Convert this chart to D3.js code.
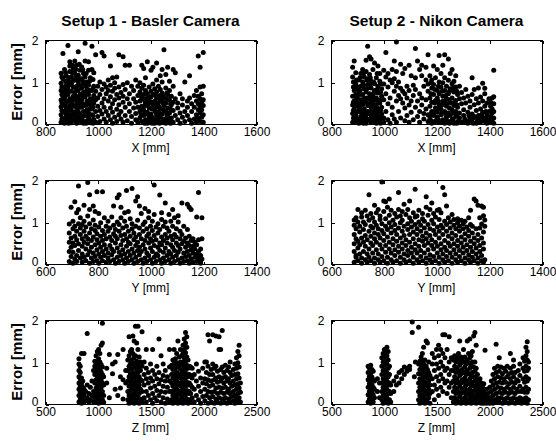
<!DOCTYPE html>
<html>
<head>
<meta charset="utf-8">
<script src="https://cdn.jsdelivr.net/npm/d3@7"></script>
<style>
body { margin: 0; background: #fff; }
svg { display: block; }
text { font-family: "Liberation Sans", Arial, sans-serif; fill: #000; }
</style>
</head>
<body>
<div id="chart"></div>
<script>
"use strict";

// measured position [mm] and the errors [mm] read at it: [position, [error, ...]]
var basX = [
	[861,[.04,.22,.41,.57,.8,.97,1.21]],
	[864,[.12,.32,.5,.7,.88,1.12]],
	[868,[.13,.3,.66,.88,1.08,1.68]],
	[874,[.02,.47,.6,.76,1.3]],
	[878,[.1,.26,.42,.68,.84,1.02,1.22]],
	[881,[.18,.35,.52,.93,1.14]],
	[887,[.08,.27,.7,.84,1.02,1.87]],
	[890,[.02,.2,.36,.54,.78,.92,1.1]],
	[894,[.15,.44,.6,1.25,1.38,1.48]],
	[900,[.03,.33,.52,.78,.95,1.12]],
	[904,[.1,.24,.46,.6,1.02,1.22,1.4]],
	[907,[.2,.42,.66,.88,1.32]],
	[913,[.1,.28,.57,.74,1.05,1.2,1.5]],
	[917,[.06,.2,.66,.84,1.1,1.3]],
	[920,[.02,.38,.48,.9,1.4]],
	[926,[.16,.3,.62,.8,1.0,1.16,1.72]],
	[930,[.1,.4,.56,.92,1.08,1.42]],
	[933,[.06,.24,.5,.7,1.28]],
	[939,[.12,.4,.58,.86,1.08,1.36]],
	[943,[.08,.18,.48,.66,1.02,1.3]],
	[946,[.02,.3,.76,.95,1.2]],
	[952,[.2,.44,.64,1.12,1.5,1.92]],
	[956,[.02,.26,.46,.72,.9,1.2]],
	[959,[.08,.34,.55,.82,1.0]],
	[965,[.16,.26,.7,.92,1.28,1.48]],
	[969,[.1,.36,.52,.8,1.02]],
	[972,[.03,.45,.6,1.1]],
	[978,[.22,.36,.8,1.3,1.85]],
	[982,[.02,.2,.4,.6,.84,1.06]],
	[985,[.1,.5,.68,.9,1.22]],
	[992,[.04,.3,.58,.78,1.65]],
	[1000,[.18,.42,.62,.9]],
	[1008,[.06,.32,.7,1.0]],
	[1016,[.24,.5,.82,1.7]],
	[1024,[.12,.4,.6,.95,1.62]],
	[1032,[.04,.3,.72,.88]],
	[1040,[.2,.55,.8,1.05]],
	[1048,[.1,.38,.65,.92,1.38]],
	[1056,[.02,.28,.48,.78,1.1]],
	[1064,[.16,.58,.85,.98]],
	[1072,[.06,.35,.7,1.12]],
	[1080,[.22,.46,.62,.88,1.65]],
	[1088,[.12,.3,.75]],
	[1096,[.04,.52,.66,.94,1.6]],
	[1104,[.2,.4,.82,1.4]],
	[1112,[.08,.6,.98]],
	[1120,[.3,.48,.72,1.4]],
	[1128,[.02,.18,.9]],
	[1136,[.38,.6,.8]],
	[1144,[.1,.25,.52,1.05]],
	[1152,[.04,.4,.68,.9]],
	[1160,[.14,.3,.55,.76,.98]],
	[1164,[.22,.4,.68]],
	[1167,[.06,.42,.62,.85,1.4]],
	[1174,[.2,.34,.7,.92,1.32]],
	[1178,[.02,.26,.44,.56]],
	[1181,[.1,.5,.6,.8,1.1]],
	[1188,[.02,.28,.44,.72,1.48]],
	[1192,[.06,.22,.48,.66]],
	[1195,[.15,.38,.56,.88]],
	[1202,[.06,.24,.64,.78,1.28]],
	[1206,[.02,.16,.36,.52]],
	[1209,[.12,.46,.7,.95,1.35]],
	[1216,[.02,.32,.54,.84]],
	[1220,[.1,.28,.5,.68]],
	[1223,[.2,.4,.62,.76,1.05,1.45]],
	[1230,[.08,.28,.5,.9]],
	[1234,[.02,.18,.4,.6]],
	[1237,[.16,.36,.68,.82,1.15]],
	[1244,[.04,.24,.56,.74,1.0,1.3]],
	[1248,[.08,.34,.5,.68]],
	[1251,[.12,.44,.62,1.77]],
	[1258,[.02,.3,.5,.86,1.18]],
	[1262,[.1,.22,.6,.74]],
	[1265,[.18,.38,.7,1.35]],
	[1272,[.08,.26,.58,.8,1.02]],
	[1276,[.02,.36,.48]],
	[1279,[.14,.46,.66]],
	[1286,[.04,.32,.52,.9,1.3]],
	[1294,[.2,.6,1.22]],
	[1303,[.1,.38,.5]],
	[1312,[.02,.26,.72]],
	[1321,[.16,.45,.6]],
	[1330,[.06,.3,1.0]],
	[1340,[.2,.4,.55]],
	[1348,[.1,.62,1.15]],
	[1356,[.02,.3,.48]],
	[1366,[.12,.4,.68]],
	[1374,[.04,.22,.55,.8]],
	[1381,[.14,.34,.48,.66,1.62]],
	[1388,[.06,.26,.42,.6,.88,1.35]],
	[1394,[.16,.34,.52,.72]],
	[1400,[.04,.22,.44,.58,.9,1.7]]
];

var nikX = [
	[882,[.04,.25,.45,.66,1.12,1.35]],
	[885,[.14,.32,.52,.88,1.0]],
	[888,[.14,.36,.55,.8,1.5]],
	[894,[.06,.2,.7,.95,1.22]],
	[897,[.1,.28,.44,.6,.84,1.05]],
	[900,[.12,.3,.5,.62,.88]],
	[906,[.02,.4,.78,1.05]],
	[910,[.04,.12,.36,.48,.7,.8,1.1]],
	[913,[.18,.28,.58,.9,1.2]],
	[920,[.08,.46,.7,1.0,1.3]],
	[923,[.02,.18,.28,.54,.92,1.2]],
	[926,[.22,.36,.62,.84,1.12]],
	[933,[.02,.14,.52,.76,1.25,1.52]],
	[936,[.08,.24,.62,.84,1.04]],
	[939,[.3,.44,.94,1.08,1.85]],
	[946,[.1,.6,.72,1.18,1.6]],
	[949,[.12,.3,.5,.66,.94,1.1]],
	[952,[.04,.2,.4,.86,1.02,1.55]],
	[959,[.26,.54,.68,1.3]],
	[962,[.06,.2,.44,.6,.74,1.0]],
	[965,[.12,.34,.8,.96,1.45]],
	[972,[.02,.46,.62,1.1]],
	[975,[.12,.26,.38,.56,.82,1.2]],
	[978,[.18,.3,.74,.9,1.38]],
	[985,[.08,.5,1.02,1.2]],
	[988,[.02,.16,.32,.58,.76,.96]],
	[992,[.24,.4,.66,.84]],
	[1000,[.04,.14,.58,.95,1.28]],
	[1008,[.3,.72,1.12,1.7]],
	[1016,[.1,.48,.88,1.2]],
	[1024,[.02,.62,1.05]],
	[1032,[.22,.4,.98,1.3]],
	[1040,[.12,.78,1.08,1.5]],
	[1048,[.04,.55,.9,1.25,1.95]],
	[1056,[.3,.68,1.0]],
	[1064,[.14,.6,.85,1.42]],
	[1072,[.5,.78,1.2]],
	[1080,[.08,.38,.72,1.32]],
	[1088,[.2,.62,.9]],
	[1096,[.04,.45,.8,1.4]],
	[1104,[.28,.55,1.15]],
	[1112,[.1,.68,.92]],
	[1120,[.4,.82,1.1,1.8]],
	[1128,[.18,.55,1.5]],
	[1136,[.04,.3,.72,1.3]],
	[1144,[.45,.62,1.15,1.4]],
	[1152,[.12,.25,.9]],
	[1160,[.36,.58,1.05,1.35]],
	[1168,[.06,.22,.78,.95,1.65]],
	[1175,[.14,.42,.62,1.15]],
	[1179,[.08,.24,.72,.98]],
	[1182,[.02,.3,.52,.86,1.05]],
	[1189,[.2,.7,.94,1.38]],
	[1193,[.04,.3,.5,.82]],
	[1196,[.08,.38,.56,1.1]],
	[1203,[.16,.28,.62,.8,1.3]],
	[1207,[.1,.36,.54,.9]],
	[1210,[.04,.46,.72,1.0,1.63]],
	[1217,[.22,.36,.88,1.2]],
	[1221,[.04,.28,.46,.78]],
	[1224,[.1,.54,.66,.98,1.4]],
	[1231,[.02,.3,.8,1.1,1.65]],
	[1235,[.08,.22,.5,.68]],
	[1238,[.16,.42,.6,.9]],
	[1245,[.06,.26,.72,1.04,1.55]],
	[1249,[.02,.38,.58,.78]],
	[1252,[.2,.5,.84,1.2]],
	[1259,[.1,.34,.62,.96,1.3]],
	[1263,[.12,.26,.5,.86]],
	[1266,[.02,.44,.76,1.02]],
	[1273,[.18,.3,.56,.88,1.15]],
	[1277,[.02,.22,.46,.78]],
	[1280,[.06,.4,.7]],
	[1287,[.14,.26,.6,.9]],
	[1295,[.04,.48,.75]],
	[1303,[.2,.34,.62]],
	[1307,[.06,.12]],
	[1311,[.08,.5,.82]],
	[1319,[.02,.28,.66]],
	[1323,[.08,.2]],
	[1327,[.14,.4,.55]],
	[1335,[.06,.24,.7,1.1]],
	[1339,[.02,.14]],
	[1343,[.18,.46,.82]],
	[1351,[.02,.32,.6]],
	[1355,[.08,.16]],
	[1359,[.1,.2,.5,.86]],
	[1367,[.04,.36,.64]],
	[1371,[.1,.22]],
	[1375,[.16,.28,.55,.97]],
	[1383,[.06,.42,.72,.85]],
	[1387,[.08,.14,.3]],
	[1391,[.02,.22,.5]],
	[1399,[.1,.3,.6]],
	[1405,[.04,.18,.42,.52]],
	[1411,[.1,.26,.36,.62]],
	[1417,[.02,.14,.3,.48,.65,1.28]]
];

var basY = [
	[692,[.06,.3,.52,.74,.95]],
	[699,[.18,.4,.62,1.35]],
	[706,[.02,.28,.5,.84,1.02]],
	[713,[.12,.44,.66,.9,1.48]],
	[720,[.06,.2,.58,.78,1.22]],
	[727,[.32,.48,.96,1.3,1.86]],
	[734,[.14,.7,.86,1.1]],
	[741,[.04,.24,.42,.6,.94]],
	[748,[.16,.52,.78,1.02,1.4]],
	[755,[.08,.36,.66,.88]],
	[762,[.22,.48,.6,1.14,1.94]],
	[769,[.02,.3,.74,.96,1.3,1.65]],
	[776,[.14,.4,.56,.84]],
	[783,[.06,.26,.64,1.05,1.38]],
	[790,[.18,.46,.8,.92,1.25]],
	[797,[.08,.34,.58,.72,1.72]],
	[804,[.02,.24,.5,.88,1.2]],
	[811,[.16,.4,.66,.98]],
	[818,[.08,.3,.56,.8,1.72]],
	[825,[.2,.46,.7,1.1]],
	[832,[.04,.36,.6,.9]],
	[839,[.14,.26,.78,1.02]],
	[846,[.06,.44,.64,.86]],
	[853,[.22,.36,.56,1.12]],
	[860,[.1,.3,.72,.92,1.38]],
	[867,[.02,.5,.66,.82]],
	[874,[.16,.38,.6,1.0,1.58]],
	[881,[.06,.28,.78,.94,1.65]],
	[888,[.2,.46,.68,1.1,1.35]],
	[895,[.1,.34,.56,.86]],
	[902,[.02,.24,.7,1.02,1.22]],
	[909,[.14,.42,.6,.9,1.75]],
	[916,[.06,.3,.52,.78,1.25]],
	[923,[.2,.48,.66,1.08]],
	[930,[.1,.36,.84,.96,1.8]],
	[937,[.02,.26,.58,.74]],
	[944,[.16,.44,.64,.9,1.5]],
	[951,[.06,.32,.52,1.04,1.6]],
	[958,[.22,.4,.7,.86,1.38]],
	[965,[.1,.3,.6,1.2]],
	[972,[.02,.46,.78,.94]],
	[979,[.14,.36,.56,1.0,1.32]],
	[986,[.06,.26,.66,.84]],
	[993,[.2,.5,.72,1.1,1.25]],
	[1000,[.1,.38,.6,.9]],
	[1007,[.02,.3,.54,.8,1.02]],
	[1014,[.16,.44,.68,1.18,1.88]],
	[1021,[.06,.24,.58,.88]],
	[1028,[.2,.4,.74,.96]],
	[1035,[.1,.32,.5,.82,1.64]],
	[1042,[.02,.46,.64,1.06,1.22]],
	[1049,[.14,.28,.56,.9]],
	[1056,[.06,.38,.7,1.0,1.45]],
	[1063,[.2,.5,.62,.86]],
	[1070,[.1,.3,.78,1.18]],
	[1077,[.02,.24,.46,.66,1.02]],
	[1084,[.16,.4,.58,.9,1.3]],
	[1091,[.06,.32,.7,1.1]],
	[1098,[.2,.5,.64,.84]],
	[1105,[.1,.28,.44,1.0,1.15]],
	[1112,[.02,.36,.6,.78]],
	[1119,[.14,.48,.7,1.45]],
	[1126,[.06,.26,.54,.9]],
	[1133,[.18,.4,.62]],
	[1140,[.08,.3,.5,.82,1.42]],
	[1147,[.02,.2,.44,.66,1.35]],
	[1154,[.12,.34,.56,1.3]],
	[1161,[.04,.26,.42,.6]],
	[1168,[.16,.36,.52]],
	[1175,[.06,.24,.46,1.12]],
	[1182,[.14,.3,.58,1.7]],
	[1190,[.02,.08,.2,.36]],
	[1195,[.12,.6,1.1]]
];

var nikY = [
	[688,[.04,.3,.48,.7,.92,1.05]],
	[695,[.16,.2,.6,.84,1.1]],
	[702,[.08,.38,.54,1.0,1.3]],
	[709,[.24,.46,.76,.9]],
	[716,[.02,.14,.62,1.12,1.22]],
	[723,[.3,.52,.82,1.0]],
	[730,[.1,.42,.68,.94,1.28]],
	[737,[.04,.24,.58,1.14]],
	[744,[.16,.36,.78,1.04,1.65]],
	[751,[.08,.5,.66,.9,1.2]],
	[758,[.26,.44,.86,1.1]],
	[765,[.02,.14,.6,.74,1.0,1.4]],
	[772,[.34,.52,.92,1.22]],
	[779,[.1,.24,.7,.84,1.3]],
	[786,[.04,.46,.62,1.06,1.14]],
	[793,[.18,.36,.8,.96,1.95]],
	[800,[.08,.56,.72,1.25,1.5]],
	[807,[.28,.44,.9,1.08,1.48]],
	[814,[.02,.16,.64,.82,1.35]],
	[821,[.36,.52,.98,1.16,1.55]],
	[828,[.1,.26,.74,.88,1.28]],
	[835,[.04,.46,.6,1.04]],
	[842,[.2,.34,.8,.94,1.2]],
	[849,[.08,.54,.7,1.12]],
	[856,[.28,.42,.86,1.3,1.7]],
	[863,[.02,.16,.62,.98,1.14]],
	[870,[.36,.5,.78,1.04,1.25]],
	[877,[.1,.24,.68,.9,1.42]],
	[884,[.04,.44,.58,1.18]],
	[891,[.2,.32,.82,.96,1.3]],
	[898,[.08,.52,.7,1.1,1.5]],
	[905,[.26,.4,.88,1.02]],
	[912,[.02,.16,.6,.76,1.22]],
	[919,[.34,.48,.94,1.12,1.78]],
	[926,[.1,.26,.7,.84,1.14]],
	[933,[.04,.42,.58,1.0,1.28]],
	[940,[.18,.32,.78,.92]],
	[947,[.08,.54,.66,1.08,1.2]],
	[954,[.26,.44,.86,1.02]],
	[961,[.02,.14,.6,.74,1.35,1.6]],
	[968,[.34,.5,.94,1.16]],
	[975,[.1,.22,.68,.84,1.3]],
	[982,[.04,.44,.58,1.04,1.45]],
	[989,[.18,.36,.8,.96,1.2]],
	[996,[.08,.52,.7,1.12]],
	[1003,[.26,.42,.88,1.28]],
	[1010,[.02,.16,.62,.78,1.06,1.3]],
	[1017,[.34,.48,.92,1.22]],
	[1024,[.1,.24,.7,.86,1.82]],
	[1031,[.04,.4,.56,1.02,1.65]],
	[1038,[.18,.32,.78,.94,1.38]],
	[1045,[.08,.5,.66,1.1]],
	[1052,[.26,.42,.86,1.0]],
	[1059,[.02,.16,.6,.74,1.18]],
	[1066,[.34,.48,.92,1.06]],
	[1073,[.1,.24,.68,.84]],
	[1080,[.04,.42,.56,.98,1.08]],
	[1087,[.18,.32,.78,.9]],
	[1094,[.08,.5,.64,1.04]],
	[1101,[.26,.4,.84,.96]],
	[1108,[.02,.14,.58,.72,1.02]],
	[1115,[.32,.46,.88]],
	[1122,[.1,.22,.66,.8,1.1]],
	[1129,[.04,.4,.54,.94,1.28]],
	[1136,[.16,.3,.74,.9]],
	[1143,[.08,.48,.62,1.55]],
	[1150,[.24,.38,.84,1.5]],
	[1157,[.02,.14,.56,.7,1.4]],
	[1164,[.3,.44,.86,1.1]],
	[1171,[.08,.2,.62,.95,1.38]],
	[1178,[.04,.36,.5,.76,1.15,1.35]],
	[1183,[.1,.9,1.05]]
];

var basZ = [
	[822,[.05,.2,.35,.5,.65,.8,.95,1.08]],
	[834,[.12,.28,.42,.6,.75,.9]],
	[846,[.02,.18,.32,.48,.62,1.2]],
	[858,[.1,.25,.4,.55]],
	[870,[.05,.2,.35,1.2]],
	[885,[.08,.3]],
	[900,[.15,.45,1.68]],
	[915,[.05,.25]],
	[930,[.1,.4]],
	[945,[.2,.55]],
	[960,[.05,.3,.8]],
	[972,[.12,.3,.5,.7,.9,1.02]],
	[984,[.04,.2,.38,.58,.78,.95,1.15]],
	[996,[.1,.28,.46,.66,.84,1.0,1.25]],
	[1008,[.02,.18,.36,.54,.72,.9,1.08,1.3]],
	[1020,[.12,.3,.48,.64,.82,1.0,1.2]],
	[1032,[.05,.22,.4,.58,.76,.94,1.4]],
	[1044,[.1,.3,.5,.7,.88,1.45,1.92]],
	[1056,[.04,.2,.45,.65]],
	[1085,[.5,.85]],
	[1110,[.15,1.18]],
	[1140,[.72,.95]],
	[1165,[.35,1.0]],
	[1190,[.2,1.18]],
	[1215,[.38,.65]],
	[1240,[.12,.58,1.3]],
	[1265,[.5,.8]],
	[1285,[.1,.3,.55,.8,1.05]],
	[1297,[.02,.2,.42,.65,.9,1.15,1.6]],
	[1309,[.12,.32,.52,.72,.95,1.25]],
	[1321,[.05,.22,.44,.62,.84,1.05,1.3]],
	[1333,[.15,.35,.55,.75,.98,1.2,1.62]],
	[1345,[.02,.25,.45,.65,.88,1.1,1.5]],
	[1357,[.12,.32,.52,.72,.92,1.15,1.85]],
	[1369,[.05,.22,.42,.62,.82,1.02,1.45]],
	[1381,[.15,.35,.55,.75,.95,1.3,1.85]],
	[1393,[.02,.25,.45,.65,.88,1.12]],
	[1405,[.12,.35,.58,.8,1.0]],
	[1420,[.05,.3,.55,.9,1.72]],
	[1440,[.15,.45,.7,1.0]],
	[1460,[.05,.3,.6,.85,1.3]],
	[1480,[.2,.5,.75]],
	[1500,[.1,.38,.62,.95]],
	[1520,[.02,.25,.55,.8,1.3]],
	[1540,[.15,.42,.7]],
	[1560,[.08,.32,.6,.9]],
	[1580,[.2,.48,.75,1.55]],
	[1600,[.05,.3,.58,1.15]],
	[1620,[.15,.42,.68,.95]],
	[1640,[.02,.28,.55,.8]],
	[1660,[.12,.4,.65]],
	[1680,[.05,.3,.55,.88,1.3]],
	[1700,[.1,.3,.5,.7,.92]],
	[1712,[.02,.2,.42,.62,.82,1.05]],
	[1724,[.12,.32,.52,.72,.95,1.3]],
	[1736,[.05,.22,.44,.64,.85,1.08]],
	[1748,[.15,.35,.55,.75,.98,1.2]],
	[1760,[.02,.25,.45,.65,.88,1.5]],
	[1772,[.1,.3,.5,.7,.92,1.12]],
	[1784,[.05,.22,.42,.62,.82,1.0,1.3]],
	[1796,[.12,.32,.52,.72,.92,1.15]],
	[1808,[.02,.2,.4,.6,.8,1.0,1.2,1.4]],
	[1820,[.1,.3,.5,.7,.9,1.1,1.3,1.55]],
	[1832,[.05,.22,.42,.62,.82,1.02,1.22,1.45,1.7]],
	[1844,[.12,.32,.52,.72,.92,1.12,1.35,1.6]],
	[1856,[.02,.25,.45,.65,.85,1.05]],
	[1868,[.1,.3,.5,.7,.9]],
	[1880,[.05,.25,.45,.68,.88]],
	[1895,[.15,.4,.62,.85]],
	[1915,[.05,.35,.7]],
	[1935,[.2,.55,.95]],
	[1955,[.1,.42,.78]],
	[1975,[.02,.3,.62]],
	[1995,[.18,.5,.85]],
	[2015,[.08,.35,.6,1.0]],
	[2030,[.2,.48,.75,1.0]],
	[2045,[.02,.3,.58,.9,1.65]],
	[2060,[.15,.42,.7,1.5]],
	[2075,[.05,.28,.55,.82]],
	[2090,[.18,.45,.7,.95,1.65]],
	[2105,[.02,.3,.58,.85]],
	[2120,[.12,.38,.62,.9,1.62]],
	[2135,[.05,.25,.52,.78]],
	[2150,[.15,.4,.65,1.3,1.6]],
	[2165,[.02,.28,.55,.82,1.3]],
	[2180,[.12,.38,.62,.88,1.75]],
	[2195,[.05,.25,.5,.75]],
	[2210,[.15,.4,.65,.92]],
	[2225,[.02,.28,.55,.8]],
	[2240,[.12,.35,.6,.88]],
	[2255,[.05,.25,.5,.75,1.0]],
	[2270,[.18,.42,.68]],
	[2285,[.08,.3,.55,.82]],
	[2300,[.02,.2,.45,.7,.95]],
	[2315,[.12,.35,.6,.85,1.1]],
	[2328,[.05,.25,.48,.72,.98,1.25]],
	[2340,[.15,.38,.62,.88,1.15,1.4]],
	[2352,[.05,.28,.5]]
];

var nikZ = [
	[852,[.05,.22,.4,.58,.75,.9]],
	[864,[.12,.3,.48,.66,.85]],
	[876,[.02,.2,.38,.56,.72,.92]],
	[888,[.1,.28,.46,.64,.82]],
	[900,[.05,.22,.4,.58,.78]],
	[912,[.15,.35,.55]],
	[940,[.3,.6]],
	[960,[.15,.5]],
	[982,[.1,.3,.5,.7,.9,1.1]],
	[994,[.02,.2,.4,.6,.8,1.0,1.2]],
	[1006,[.12,.32,.52,.72,.92,1.12,1.3]],
	[1018,[.05,.22,.42,.62,.82,1.02,1.22]],
	[1030,[.15,.35,.55,.75,.95,1.15,1.35]],
	[1042,[.02,.25,.45,.65,.85,1.05,1.25]],
	[1054,[.1,.3,.5,.7,.9]],
	[1066,[.05,.25,.45]],
	[1095,[.3,.55]],
	[1120,[.45,.65]],
	[1145,[.5,.75]],
	[1170,[.6,.8]],
	[1195,[.7,.88]],
	[1220,[.78,.85]],
	[1245,[.82,.9]],
	[1270,[1.7,1.95]],
	[1290,[.65]],
	[1300,[1.0]],
	[1330,[.1,.3,.5,.72,.95,1.83]],
	[1342,[.02,.2,.4,.6,.82,1.02]],
	[1354,[.12,.32,.52,.72,.92,1.12]],
	[1366,[.05,.22,.42,.62,.82,1.02,1.2]],
	[1378,[.15,.35,.55,.75,.95,1.35]],
	[1390,[.02,.25,.45,.65,.85,1.05]],
	[1402,[.1,.3,.5,.7,.9,1.5]],
	[1414,[.05,.22,.42,.62,.82,1.45]],
	[1426,[.15,.35,.55,.75,1.0]],
	[1438,[.02,.25,.45,.68]],
	[1460,[.3,.6,.95,1.2]],
	[1480,[.1,.45,.8,1.1]],
	[1500,[.35,.65,.95,1.3]],
	[1520,[.2,.55,.85,1.15,1.4]],
	[1540,[.4,.7,1.0,1.3]],
	[1560,[.3,.6,.9,1.2,1.65]],
	[1580,[.5,.8,1.1,1.65]],
	[1600,[.25,.55,.85,1.3]],
	[1620,[.4,.7,1.0,1.6]],
	[1640,[.15,.5,.8,1.1]],
	[1660,[.05,.3,.55,.8,1.05]],
	[1672,[.15,.4,.65,.9,1.15]],
	[1684,[.02,.25,.5,.75,1.0]],
	[1696,[.12,.35,.6,.85,1.1]],
	[1708,[.05,.28,.52,.78,1.02,1.2]],
	[1720,[.18,.42,.68,.92,1.5]],
	[1732,[.02,.25,.5,.72,.98,1.12]],
	[1744,[.12,.35,.58,.82,1.05]],
	[1756,[.05,.28,.52,.75,1.0,1.3]],
	[1768,[.15,.4,.62,.88,1.12]],
	[1780,[.02,.22,.45,.7,.95]],
	[1792,[.1,.32,.55,.8,1.05,1.5]],
	[1804,[.04,.25,.48,.72,.98,1.2]],
	[1816,[.14,.36,.6,.85,1.1,1.55]],
	[1828,[.02,.22,.45,.68,.92,1.15]],
	[1840,[.1,.3,.52,.75,1.0,1.25]],
	[1852,[.04,.2,.42,.65,.88,1.62]],
	[1864,[.12,.32,.55,.78,1.0,1.7]],
	[1876,[.02,.2,.4,.62,.85,1.4]],
	[1888,[.1,.28,.48,.7]],
	[1900,[.04,.18,.36,.55]],
	[1912,[.1,.25,.42,.6]],
	[1924,[.02,.16,.32,.5]],
	[1936,[.08,.22,.4]],
	[1948,[.02,.15,.3,.48]],
	[1960,[.08,.22,1.28]],
	[1975,[.02,.15,.35]],
	[1990,[.08,.25]],
	[2005,[.02,.15,.4]],
	[2020,[.1,.3,.55]],
	[2035,[.02,.2,.45,.7]],
	[2050,[.1,.35,.6,.85]],
	[2065,[.05,.25,.5,.75,1.42]],
	[2080,[.15,.4,.65,.9]],
	[2095,[.05,.28,.52,.78,1.1]],
	[2110,[.15,.38,.62,.88]],
	[2125,[.02,.25,.5,.72]],
	[2140,[.12,.35,.6,.85]],
	[2155,[.05,.28,.52,.78]],
	[2170,[.15,.4,.65,.9]],
	[2185,[.02,.25,.48,.72]],
	[2200,[.12,.35,.6,.85,1.2]],
	[2215,[.05,.28,.52,.75]],
	[2230,[.15,.4,.65,.9,1.05]],
	[2245,[.02,.25,.5,.75]],
	[2260,[.12,.35,.58]],
	[2275,[.05,.3,.55,.8]],
	[2290,[.15,.42,.68,.95]],
	[2305,[.02,.08,.3]],
	[2320,[.12,.35,.6,.85,1.1]],
	[2335,[.05,.28,.52,.78,1.02]],
	[2348,[.15,.4,.65,.9,1.15,1.35]],
	[2360,[.02,.28,.55,.8,1.05,1.25,1.48]],
	[2372,[.1,.35,.6,.85,1.0]]
];

var titles = ["Setup 1 - Basler Camera", "Setup 2 - Nikon Camera"];
var xLabels = ["X [mm]", "Y [mm]", "Z [mm]"];
var xDomains = [[800, 1600], [600, 1400], [500, 2500]];
var xTicks = [[800, 1000, 1200, 1400, 1600], [600, 800, 1000, 1200, 1400], [500, 1000, 1500, 2000, 2500]];
var yTicks = [0, 1, 2];
var yLabel = "Error [mm]";

var panels = [[basX, nikX], [basY, nikY], [basZ, nikZ]];

var W = 556, H = 441;
var colLeft = [45, 331], rowTop = [40, 180, 320];
var pw = 211, ph = 84;

var svg = d3.select("#chart").append("svg").attr("width", W).attr("height", H);

function flatten(cols) {
	var pts = [];
	cols.forEach(function(c) {
		c[1].forEach(function(e) { pts.push({pos: c[0], err: e}); });
	});
	return pts;
}

function drawPanel(cols, row, col) {
	var g = svg.append("g").attr("transform", "translate(" + colLeft[col] + "," + rowTop[row] + ")");

	var x = d3.scaleLinear().domain(xDomains[row]).range([0, pw]);
	var y = d3.scaleLinear().domain([0, 2]).range([ph, 0]);

	g.selectAll("circle")
		.data(flatten(cols))
		.enter().append("circle")
		.attr("cx", function(d) { return x(d.pos); })
		.attr("cy", function(d) { return y(d.err); })
		.attr("r", 2.5)
		.attr("fill", "#000");

	// box round the axes
	g.append("rect")
		.attr("x", 0.5).attr("y", 0.5)
		.attr("width", pw).attr("height", ph)
		.attr("fill", "none").attr("stroke", "#000").attr("stroke-width", 1)
		.attr("shape-rendering", "crispEdges");

	// ticks point inwards, on all four sides
	var fmt = d3.format("d");
	g.append("g").attr("transform", "translate(0.5," + (ph + 0.5) + ")")
		.call(d3.axisBottom(x).tickValues(xTicks[row]).tickFormat(fmt).tickSizeInner(-3).tickSizeOuter(0).tickPadding(2.5));
	g.append("g").attr("transform", "translate(0.5,0.5)")
		.call(d3.axisTop(x).tickValues(xTicks[row]).tickSizeInner(-3).tickSizeOuter(0).tickFormat(""));
	var left = g.append("g").attr("transform", "translate(0.5,0.5)")
		.call(d3.axisLeft(y).tickValues(yTicks).tickFormat(fmt).tickSizeInner(-3).tickSizeOuter(0).tickPadding(7));
	g.append("g").attr("transform", "translate(" + (pw + 0.5) + ",0.5)")
		.call(d3.axisRight(y).tickValues(yTicks).tickSizeInner(-3).tickSizeOuter(0).tickFormat(""));

	// the 0 label sits a little above the axis, clear of the first x label
	left.selectAll(".tick text").filter(function(d) { return d == 0; }).attr("y", -3);

	g.selectAll(".domain").remove();
	g.selectAll(".tick line").attr("stroke", "#000").attr("shape-rendering", "crispEdges");
	g.selectAll(".tick text").attr("font-size", 12).attr("fill", "#000")
		.style("font-family", '"Liberation Sans", Arial, sans-serif');

	g.append("text")
		.attr("x", pw / 2).attr("y", ph + 27.5)
		.attr("text-anchor", "middle")
		.attr("font-size", 12)
		.text(xLabels[row]);

	if (row == 0) {
		g.append("text")
			.attr("x", pw / 2).attr("y", -14)
			.attr("text-anchor", "middle")
			.attr("font-size", 15.5).attr("font-weight", "bold")
			.text(titles[col]);
	}

	if (col == 0) {
		g.append("text")
			.attr("transform", "translate(" + (22 - colLeft[0]) + "," + (ph / 2) + ") rotate(-90)")
			.attr("text-anchor", "middle")
			.attr("font-size", 15).attr("font-weight", "bold")
			.text(yLabel);
	}
}

for (var r = 0; r < 3; r++) {
	for (var c = 0; c < 2; c++) {
		drawPanel(panels[r][c], r, c);
	}
}
</script>
</body>
</html>
